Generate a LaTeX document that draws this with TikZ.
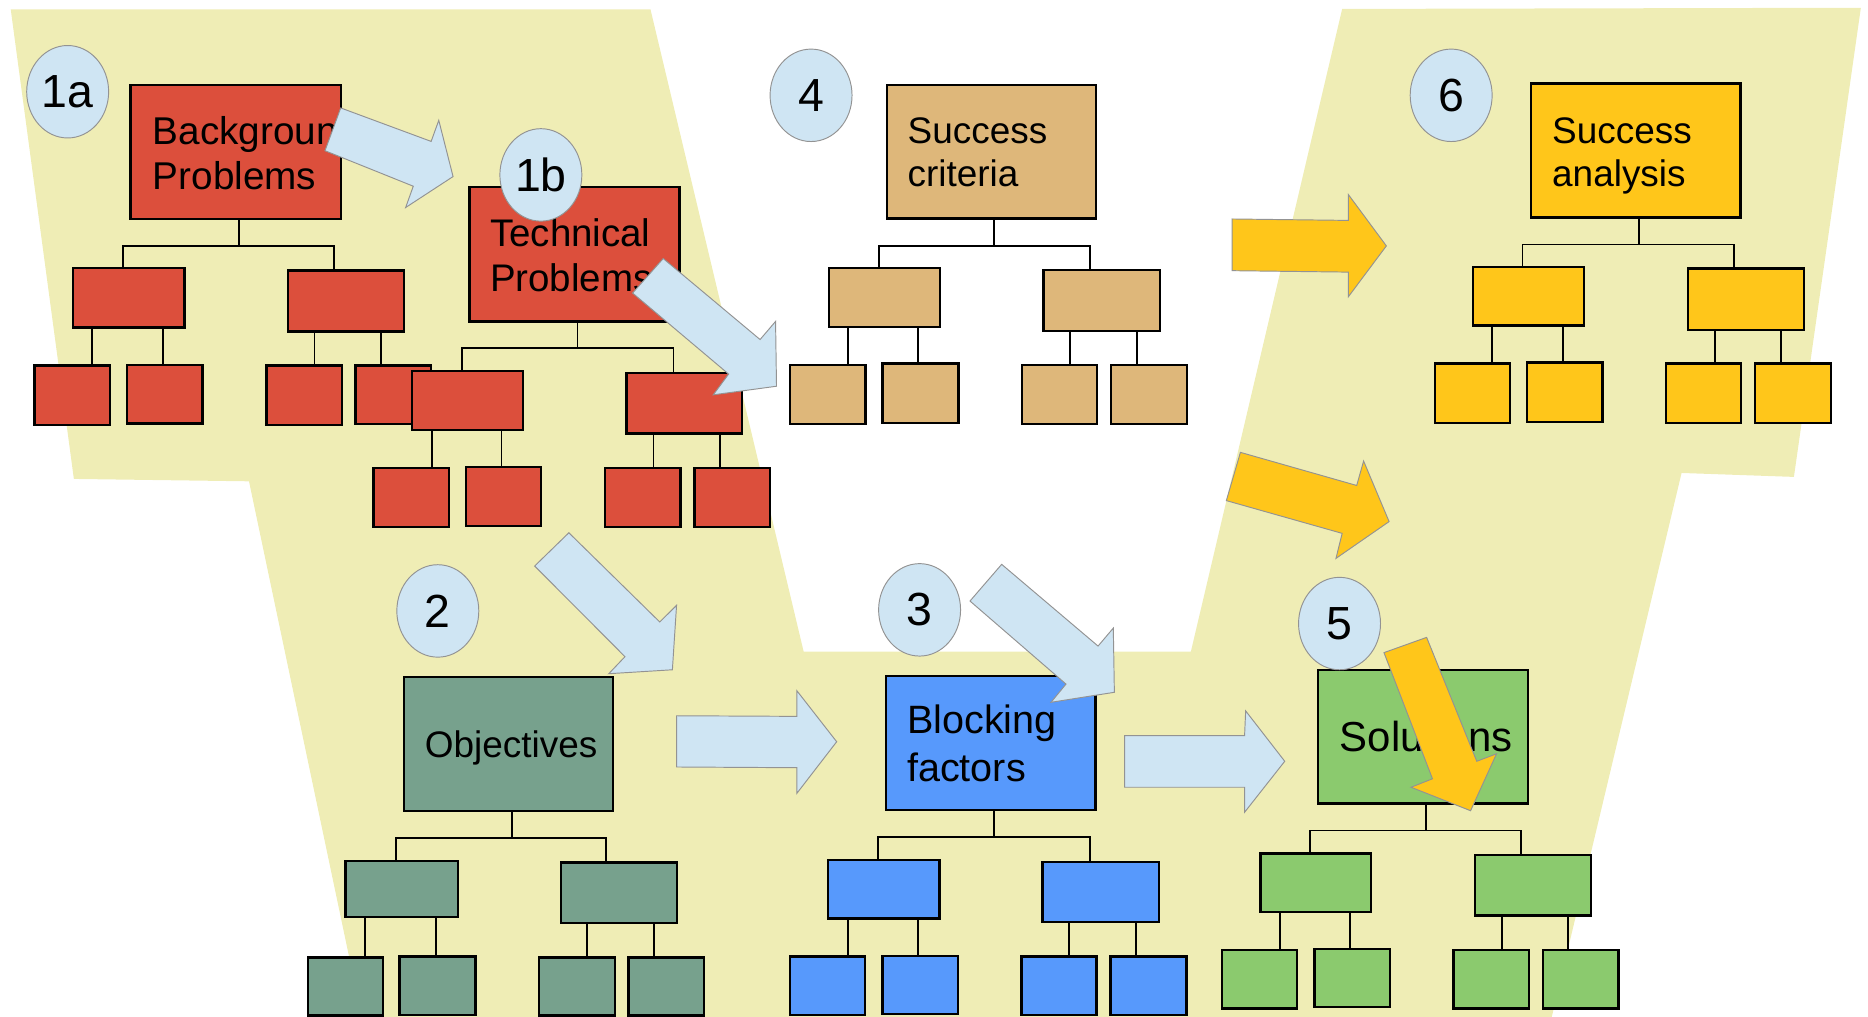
\documentclass[tikz,border=0pt]{standalone}
\usepackage{fontspec}
\setmainfont{Liberation Sans}
\usetikzlibrary{shapes.geometric}
\definecolor{bgyel}{RGB}{239,237,181}
\definecolor{cred}{RGB}{220,79,60}
\definecolor{ctan}{RGB}{222,183,122}
\definecolor{cgold}{RGB}{255,198,26}
\definecolor{cblue}{RGB}{87,153,252}
\definecolor{cgreen}{RGB}{139,202,110}
\definecolor{cgrey}{RGB}{119,161,141}
\definecolor{lblue}{RGB}{207,229,243}
\newcommand{\mybox}[6]{%
  \pgfmathsetmacro{\bxw}{(#4-#2)*0.5}%
  \pgfmathsetmacro{\bxh}{(#5-#3)*0.5}%
  \node[bx, fill=#6, minimum width=\bxw pt, minimum height=\bxh pt] (#1) at ({(#2+#4)/2},{(#3+#5)/2}) {};}
\newcommand{\fork}[7]{%
  \draw[conn] (#1.south -| #4,0) -- (#4,#5) coordinate (#1-bar);
  \draw[conn] (#2.north -| #6,0) |- (#1-bar) -| (#3.north -| #7,0);}
\newcommand{\drop}[3]{\draw[conn] (#1.south -| #3,0) -- (#2.north -| #3,0);}
\begin{document}
\begin{tikzpicture}[x=0.5pt,y=-0.5pt,
  bx/.style={draw=black, line width=1pt, inner sep=0pt, outer sep=0pt},
  conn/.style={draw=black, line width=0.75pt},
  numb/.style={ellipse, draw=gray!85, line width=0.4pt, fill=lblue, minimum width=34.4pt, minimum height=38.8pt, inner sep=0pt, font=\fontsize{19.5pt}{22pt}\selectfont},
  barrow/.style={fill=lblue, draw=gray!85, line width=0.4pt},
  garrow/.style={fill=cgold, draw=gray!85, line width=0.4pt},
  lbl/.style={inner sep=0pt, align=left, anchor=north west},
]
\useasboundingbox (0,0) rectangle (1568,853);
% background band
\fill[bgyel] (9,7.8) -- (546,7.8) -- (674.6,547) -- (999.6,547) -- (1126.6,7.5) -- (1562,6.5) -- (1505.8,400.3) -- (1411.5,397) -- (1301,860) -- (305,860) -- (209,404) -- (62,402) -- cycle;

% ---- Background problems (red)
\mybox{bp}{109.7}{71.4}{286}{183.8}{cred}
\node[lbl, font=\fontsize{16.25pt}{19pt}\selectfont] (bpT) at (127.9,97.5) {Background\\Problems};
\mybox{bpL}{61.2}{225.2}{155}{275}{cred}
\mybox{bpR}{242}{227}{339}{278.4}{cred}
\mybox{bpLa}{29.1}{306.8}{92.5}{356.6}{cred}
\mybox{bpLb}{106.6}{306.2}{170}{355.4}{cred}
\mybox{bpRa}{223.6}{306.8}{287}{356.6}{cred}
\mybox{bpRb}{298.5}{306.8}{362}{356}{cred}
\fork{bp}{bpL}{bpR}{200.4}{206.7}{103}{280.5}
\drop{bpL}{bpLa}{77.5}\drop{bpL}{bpLb}{137}
\drop{bpR}{bpRa}{264}\drop{bpR}{bpRb}{320}

% ---- Technical problems (red)
\mybox{tp}{394}{157}{570.4}{269.8}{cred}
\node[lbl, font=\fontsize{16.15pt}{19pt}\selectfont] (tpT) at (411,183.2) {Technical\\Problems};
\mybox{tpL}{345.6}{311.4}{439}{361}{cred}
\mybox{tpR}{526}{313}{623}{363.8}{cred}
\mybox{tpLa}{313.5}{392.8}{376.9}{442.3}{cred}
\mybox{tpLb}{391}{392}{454}{441.7}{cred}
\mybox{tpRa}{508}{392.8}{571.3}{442.3}{cred}
\mybox{tpRb}{582.9}{392.8}{646.3}{442.3}{cred}
\fork{tp}{tpL}{tpR}{484.8}{292.3}{387.6}{565.3}
\drop{tpL}{tpLa}{362.3}\drop{tpL}{tpLb}{421}
\drop{tpR}{tpRa}{548.6}\drop{tpR}{tpRb}{604.3}

% ---- Success criteria (tan)
\mybox{sc}{744.6}{71.4}{919.8}{183.3}{ctan}
\node[lbl, font=\fontsize{15.5pt}{18.1pt}\selectfont] (scT) at (761.5,98.5) {Success\\criteria};
\mybox{scL}{695.8}{224.9}{789}{274.6}{ctan}
\mybox{scR}{876}{226.6}{973.6}{278}{ctan}
\mybox{scLa}{663.3}{306.4}{726.4}{356.1}{ctan}
\mybox{scLb}{740.9}{305.2}{804.7}{355}{ctan}
\mybox{scRa}{857.8}{306.4}{921}{356.1}{ctan}
\mybox{scRb}{932.8}{306.4}{996.6}{356.1}{ctan}
\fork{sc}{scL}{scR}{834.6}{206.4}{737.7}{914.7}
\drop{scL}{scLa}{712}\drop{scL}{scLb}{770.8}
\drop{scR}{scRa}{898.4}\drop{scR}{scRb}{954.2}

% ---- Success analysis (gold)
\mybox{sa}{1285}{70}{1460.8}{182.7}{cgold}
\node[lbl, font=\fontsize{15.5pt}{18.05pt}\selectfont] (saT) at (1302.5,98.3) {Success\\analysis};
\mybox{saL}{1236.2}{224.3}{1329.5}{273.2}{cgold}
\mybox{saR}{1417}{225.5}{1514}{277}{cgold}
\mybox{saLa}{1204.3}{305.2}{1267.5}{355}{cgold}
\mybox{saLb}{1281.9}{304.4}{1345.1}{354.1}{cgold}
\mybox{saRa}{1398.2}{305.2}{1461.4}{355}{cgold}
\mybox{saRb}{1473.3}{305.2}{1537}{355}{cgold}
\fork{sa}{saL}{saR}{1375.7}{205.2}{1278}{1455.8}
\drop{saL}{saLa}{1252.5}\drop{saL}{saLb}{1312}
\drop{saR}{saRa}{1439.5}\drop{saR}{saRb}{1495.2}

% ---- Objectives (grey green)
\mybox{ob}{339.2}{568.3}{514.8}{680.8}{cgrey}
\node[inner sep=0pt, anchor=base, font=\fontsize{15.5pt}{18pt}\selectfont] (obT) at (429,635.7) {Objectives};
\mybox{obL}{289.9}{722.5}{384.2}{769.5}{cgrey}
\mybox{obR}{471.1}{723.9}{568.3}{775}{cgrey}
\mybox{obLa}{258.3}{803.6}{321.7}{852.5}{cgrey}
\mybox{obLb}{335.4}{803}{399.1}{852}{cgrey}
\mybox{obRa}{452.3}{803.6}{516.1}{852.5}{cgrey}
\mybox{obRb}{527.7}{803.6}{591}{852.5}{cgrey}
\fork{ob}{obL}{obR}{429.5}{703.7}{332.3}{508.8}
\drop{obL}{obLa}{306.6}\drop{obL}{obLb}{365.7}
\drop{obR}{obRa}{492.9}\drop{obR}{obRb}{549.1}

% ---- Blocking factors (blue)
\mybox{bf}{743.5}{567.5}{919.4}{680}{cblue}
\node[lbl, font=\fontsize{16.6pt}{20.15pt}\selectfont] (bfT) at (761,591.1) {Blocking\\factors};
\mybox{bfL}{694.8}{721.9}{788.5}{770.9}{cblue}
\mybox{bfR}{875.2}{723.3}{972.6}{774}{cblue}
\mybox{bfLa}{662.9}{802.8}{726.1}{852}{cblue}
\mybox{bfLb}{740.6}{802.2}{803.9}{851.2}{cblue}
\mybox{bfRa}{857.3}{802.8}{920.3}{852}{cblue}
\mybox{bfRb}{932.3}{802.8}{995.8}{852}{cblue}
\fork{bf}{bfL}{bfR}{834.4}{702.3}{736.7}{915}
\drop{bfL}{bfLa}{711.6}\drop{bfL}{bfLb}{770.3}
\drop{bfR}{bfRa}{897.6}\drop{bfR}{bfRb}{953.6}

% ---- Solutions (green)
\mybox{so}{1106.4}{562.2}{1282.5}{674.5}{cgreen}
\node[inner sep=0pt, anchor=base west, font=\fontsize{17.6pt}{21pt}\selectfont] (soT) at (1124.3,630.4) {Solutions};
\mybox{soL}{1057.9}{716.3}{1150.7}{765.4}{cgreen}
\mybox{soR}{1238.3}{717.9}{1335.5}{768.6}{cgreen}
\mybox{soLa}{1025.9}{797.6}{1088.5}{846.5}{cgreen}
\mybox{soLb}{1103.4}{796.7}{1166.5}{845.5}{cgreen}
\mybox{soRa}{1219.9}{797.3}{1283.4}{846.5}{cgreen}
\mybox{soRb}{1295.2}{797.3}{1358.7}{846.5}{cgreen}
\fork{so}{soL}{soR}{1197.1}{697.1}{1099.5}{1276.8}
\drop{soL}{soLa}{1074.5}\drop{soL}{soLb}{1133.2}
\drop{soR}{soRa}{1260.6}\drop{soR}{soRb}{1316.2}

% ---- step numbers
\node[numb] (n1a) at (56.8,77) {1a};
\node[numb] (n1b) at (454,146.8) {1b};
\node[numb] (n4) at (680.8,80) {4};
\node[numb] (n6) at (1218.1,80) {6};
\node[numb] (n2) at (367.5,512.8) {2};
\node[numb] (n3) at (771.9,511.9) {3};
\node[numb] (n5) at (1124.4,523.4) {5};

% ---- block arrows
\draw[barrow] (286,90.6) -- (361.9,118.7) -- (368.3,101) -- (380.3,148.2) -- (340.5,174.2) -- (346.9,156.3) -- (272.8,126.5) -- cycle;
\draw[barrow] (556.7,217) -- (638,285) -- (651,269.8) -- (651.8,324.2) -- (598.7,331.4) -- (611.6,314) -- (531,246) -- cycle;
\draw[garrow] (1034.2,183.8) -- (1131.8,185) -- (1131.8,163.3) -- (1163.7,206.4) -- (1131.8,249.1) -- (1131.8,228.4) -- (1034.2,227.2) -- cycle;
\draw[garrow] (1041.2,379.7) -- (1138.8,407.5) -- (1144.6,387) -- (1166,437.8) -- (1121.4,468.7) -- (1126.6,447.7) -- (1029.4,420.2) -- cycle;
\draw[barrow] (477.5,447.2) -- (553.8,522.1) -- (567.9,508.1) -- (564.4,562.2) -- (511,565.5) -- (524.6,551.2) -- (448.8,475.1) -- cycle;
\draw[barrow] (567.9,600.8) -- (668.9,601.3) -- (668.9,579.8) -- (702.3,622.6) -- (668.9,665.9) -- (668.9,644.4) -- (567.9,643.8) -- cycle;
\draw[barrow] (840.8,473.7) -- (921.7,542.3) -- (934.5,527.2) -- (935.4,581.1) -- (882.2,589.5) -- (894.8,574.2) -- (814.2,504.5) -- cycle;
\draw[barrow] (944,617.4) -- (1044.7,617.4) -- (1045.6,596.7) -- (1078.4,639) -- (1044.7,681.8) -- (1044.7,660.8) -- (944,660.8) -- cycle;
\draw[garrow] (1161.7,547.8) -- (1197.5,535) -- (1239.6,639) -- (1256.2,632.7) -- (1234.4,680.5) -- (1184.4,660.8) -- (1202.4,653.7) -- cycle;
\end{tikzpicture}
\end{document}
